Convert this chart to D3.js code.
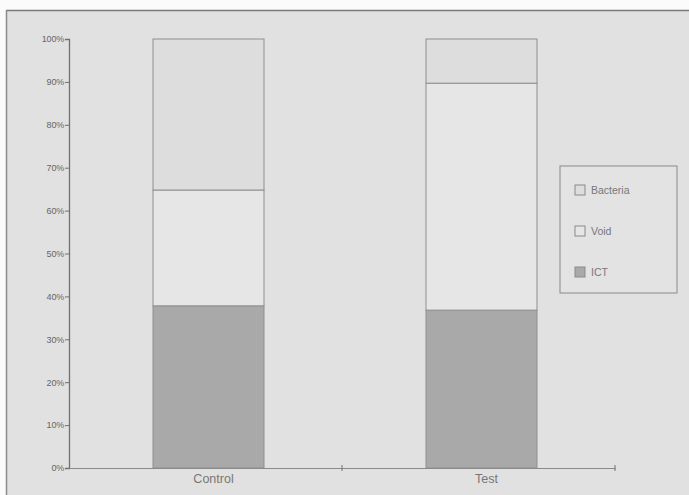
<!DOCTYPE html>
<html><head><meta charset="utf-8">
<script src="https://cdn.jsdelivr.net/npm/d3@7"></script>
<style>body{margin:0;background:#fff}svg{display:block}</style>
</head><body>
<script>
const categories = ["Control", "Test"];
const ictValues = [37.8, 36.8];
const voidValues = [27.0, 52.9];
const bacteriaValues = [35.2, 10.3];
const seriesNames = ["ICT", "Void", "Bacteria"];
const yTickLabels = ["0%","10%","20%","30%","40%","50%","60%","70%","80%","90%","100%"];

const W = 689, H = 495;
const FONT = "Liberation Sans, Arial, sans-serif";
const svg = d3.select("body").append("svg").attr("width", W).attr("height", H);
svg.append("rect").attr("width", W).attr("height", H).attr("fill", "#fbfbfb");
svg.append("rect").attr("x", 6).attr("y", 10).attr("width", W).attr("height", H).attr("fill", "#e1e1e1");
svg.append("line").attr("x1", 6).attr("x2", W).attr("y1", 10.5).attr("y2", 10.5).attr("stroke", "#7a7a7a").attr("stroke-width", 1.5);
svg.append("line").attr("x1", 6.5).attr("x2", 6.5).attr("y1", 10).attr("y2", H).attr("stroke", "#8a8a8a").attr("stroke-width", 1.5);

const xOuter = d3.scaleBand().domain(categories).range([69, 615]);
const y = d3.scaleLinear().domain([0, 100]).range([468, 39]);

const data = categories.map((c, i) => ({cat: c, ICT: ictValues[i], Void: voidValues[i], Bacteria: bacteriaValues[i]}));
const stack = d3.stack().keys(seriesNames)(data);
const fills = {ICT: "#a9a9a9", Void: "#e6e6e6", Bacteria: "#dddddd"};

const bw = 111, shift = 3;
const cx = c => xOuter(c) + xOuter.bandwidth() / 2 + shift;
stack.forEach(s => {
  svg.append("g").selectAll("rect").data(s).join("rect")
    .attr("x", d => cx(d.data.cat) - bw / 2)
    .attr("width", bw)
    .attr("y", d => y(d[1]))
    .attr("height", d => y(d[0]) - y(d[1]))
    .attr("fill", fills[s.key])
    .attr("stroke", "#8f8f8f").attr("stroke-width", 1);
});

// y axis
const yAxis = d3.axisLeft(y).tickValues(d3.range(0, 101, 10)).tickFormat((d, i) => yTickLabels[i]).tickSize(4).tickPadding(1);
const gy = svg.append("g").attr("transform", "translate(69,0)").call(yAxis);
gy.select(".domain").attr("stroke", "#707070").attr("stroke-width", 1.3);
gy.selectAll(".tick line").attr("stroke", "#707070");
gy.selectAll("text").attr("font-family", FONT).attr("font-size", 9).attr("fill", "#666").attr("letter-spacing", -0.2);

// x axis
const xAxis = d3.axisBottom(xOuter).tickSize(0).tickPadding(6);
const gx = svg.append("g").attr("transform", "translate(0,468)").call(xAxis);
gx.select(".domain").attr("stroke", "#8a8a8a").attr("stroke-width", 1);
gx.selectAll("text").attr("font-family", FONT).attr("font-size", 12.5).attr("fill", "#777").attr("dx", 8);
// boundary ticks
const bounds = [xOuter("Test"), 615];
svg.append("g").selectAll("line").data(bounds).join("line")
  .attr("x1", d => d).attr("x2", d => d).attr("y1", 465).attr("y2", 471)
  .attr("stroke", "#707070").attr("stroke-width", 1);

// legend
const lg = svg.append("g");
lg.append("rect").attr("x", 560).attr("y", 166).attr("width", 117).attr("height", 127)
  .attr("fill", "#e3e3e3").attr("stroke", "#8a8a8a").attr("stroke-width", 1);
const legendItems = ["Bacteria", "Void", "ICT"];
legendItems.forEach((k, i) => {
  const cy = 190 + i * 41;
  lg.append("rect").attr("x", 575).attr("y", cy - 5).attr("width", 10).attr("height", 10)
    .attr("fill", fills[k]).attr("stroke", "#8a8a8a");
  lg.append("text").attr("x", 591).attr("y", cy + 4).text(k)
    .attr("font-family", FONT).attr("font-size", 10.5).attr("fill", "#777");
});
</script>
</body></html>
